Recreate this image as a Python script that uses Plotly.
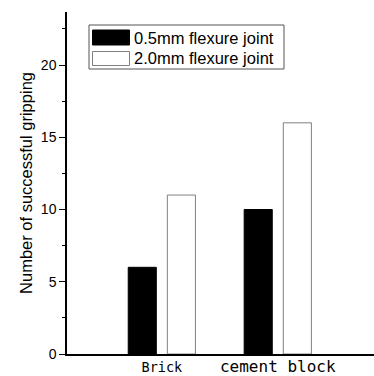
import plotly.graph_objects as go

categories = ["Brick", "cement block"]
tick_labels = ['<span style="font-size:13.5px">Brick</span>', "cement block"]
series_names = ["0.5mm flexure joint", "2.0mm flexure joint"]
values_05 = [6, 10]
values_20 = [11, 16]

W, H = 374, 376
L, R, T, B = 67, 0, 12, 22
pw, ph = W - L - R, H - T - B

def px(x):
    return (x - L) / pw

def py(y):
    return (H - B - y) / ph

fig = go.Figure()
fig.add_trace(go.Bar(x=categories, y=values_05, name=series_names[0],
                     marker=dict(color="black", line=dict(color="black", width=1)),
                     showlegend=False))
fig.add_trace(go.Bar(x=categories, y=values_20, name=series_names[1],
                     marker=dict(color="white", line=dict(color="#808080", width=1)),
                     showlegend=False))

# manual legend (wide swatches like the original)
shapes = [
    dict(type="rect", xref="paper", yref="paper", x0=px(89), x1=px(284), y0=py(69), y1=py(25),
         line=dict(color="#555555", width=1), fillcolor="white", layer="above"),
    dict(type="rect", xref="paper", yref="paper", x0=px(92.5), x1=px(129.5), y0=py(45), y1=py(30),
         line=dict(color="black", width=1), fillcolor="black", layer="above"),
    dict(type="rect", xref="paper", yref="paper", x0=px(92.5), x1=px(129.5), y0=py(65.5), y1=py(51.5),
         line=dict(color="#808080", width=1), fillcolor="white", layer="above"),
]
annotations = [
    dict(xref="paper", yref="paper", x=px(132), y=py(37.5), text=series_names[0], showarrow=False,
         xanchor="left", yanchor="middle", font=dict(size=16.5, color="black", family="Liberation Sans")),
    dict(xref="paper", yref="paper", x=px(132), y=py(58.5), text=series_names[1], showarrow=False,
         xanchor="left", yanchor="middle", font=dict(size=16.5, color="black", family="Liberation Sans")),
]

fig.update_layout(
    width=W, height=H,
    margin=dict(l=L, r=R, t=T, b=B, pad=0),
    paper_bgcolor="white", plot_bgcolor="white",
    barmode="group", bargap=0.325, bargroupgap=0.282,
    shapes=shapes, annotations=annotations,
    showlegend=False,
    font=dict(family="Liberation Sans", color="black"),
    xaxis=dict(type="category", range=[-0.818, 1.83], showline=True, linecolor="black", linewidth=1.5,
               ticks="", showgrid=False, zeroline=False, automargin=False,
               tickvals=categories, ticktext=tick_labels, ticklabelstandoff=-3,
               tickfont=dict(family="DejaVu Sans Mono", size=16, color="black")),
    yaxis=dict(range=[0, 23.67], showline=True, linecolor="black", linewidth=1.5, automargin=False,
               ticks="outside", ticklen=6, tickwidth=1.2, tickcolor="black", dtick=5, tick0=0,
               minor=dict(dtick=2.5, ticks="outside", ticklen=3, tickwidth=1, tickcolor="black", showgrid=False),
               showgrid=False, zeroline=False,
               tickfont=dict(size=14, color="black", family="Liberation Sans"),
               title=dict(text="Number of successful gripping", standoff=4,
                          font=dict(size=16.5, color="black", family="Liberation Sans"))),
)

fig.write_html("out.html", config={"displayModeBar": False},
               post_script="document.body.style.margin='0px';document.body.style.overflow='hidden';")
